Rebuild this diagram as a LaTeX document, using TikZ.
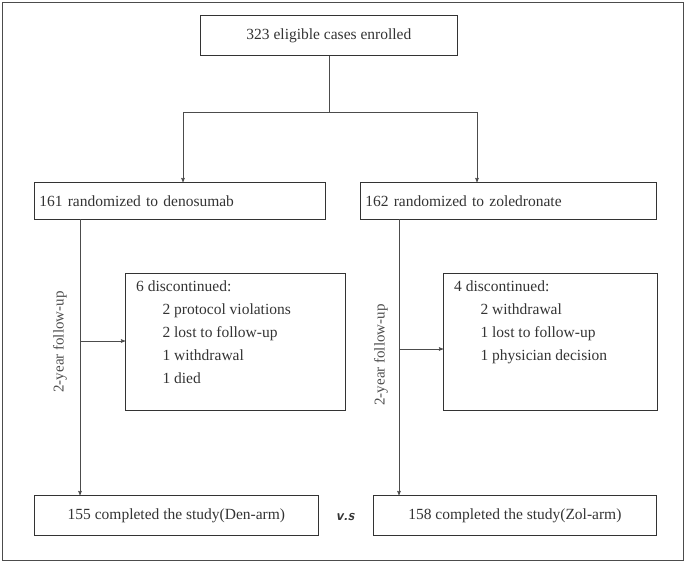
\documentclass[tikz,border=0pt]{standalone}
\usepackage{fontspec}
\setmainfont{Liberation Serif}
\usepackage{tikz}
\usetikzlibrary{positioning, arrows}
\tikzset{
>=stealth', % arrow heads
box/.style={draw=black!80, thick, inner sep=0pt, anchor=north west, text=black!80, font=\fontsize{15.5}{23}\selectfont}, % every framed box
txt/.style={anchor=north west, inner sep=0pt, align=left, text=black!80, font=\fontsize{15.5}{23}\selectfont}, % text in the tall boxes
flow/.style={->, draw=black!70, semithick}, % connectors
follow/.style={rotate=90, text=black!70, font=\fontsize{15}{17}\selectfont}
}
\begin{document}
\begin{tikzpicture}[x=1pt, y=-1pt]
      \draw[black!70] (2,2) rectangle (683,560);
      \useasboundingbox (0,0) rectangle (685,562);

      \node[box, minimum width=257pt, minimum height=40pt] (enrol) at (200,15) {323 eligible cases enrolled};
      \node[box, minimum width=291pt, minimum height=37pt, text width=281pt, align=left, inner xsep=5pt] (den) at (34,182) {161 randomized to denosumab};
      \node[box, minimum width=296pt, minimum height=37pt, text width=286pt, align=left, inner xsep=5pt] (zol) at (360,182) {162 randomized to zoledronate};
      \node[box, minimum width=220pt, minimum height=137pt] (disA) at (125,273) {};
      \node[txt] (disAtext) at (136,281)
        {6 discontinued:\\
         \hspace*{1.7em}2 protocol violations\\
         \hspace*{1.7em}2 lost to follow-up\\
         \hspace*{1.7em}1 withdrawal\\
         \hspace*{1.7em}1 died};
      \node[box, minimum width=214pt, minimum height=137pt] (disB) at (443,273) {};
      \node[txt] (disBtext) at (454,281)
        {4 discontinued:\\
         \hspace*{1.7em}2 withdrawal\\
         \hspace*{1.7em}1 lost to follow-up\\
         \hspace*{1.7em}1 physician decision};
      \node[box, minimum width=284pt, minimum height=40pt] (endA) at (34,495) {155 completed the study(Den-arm)};
      \node[box, minimum width=283pt, minimum height=40pt] (endB) at (373,495) {158 completed the study(Zol-arm)};
      \node[font=\sffamily\bfseries\itshape\fontsize{15}{17}\selectfont, text=black!80] (vs) at (345,517) {v.s};

      \coordinate (split) at (329,112);
      \draw[flow, -] (enrol.south -| split) -- (split);
      \draw[flow] (split) -| (183,182);
      \draw[flow] (split) -| (477,182);

      \draw[flow] (80,219) -- (80,495);
      \draw[flow] (80,341) -- (disA.west |- 80,341);
      \node[follow] (fuA) at (60,342) {2-year follow-up};
      \draw[flow] (399,219) -- (399,495);
      \draw[flow] (399,349) -- (disB.west |- 399,349);
      \node[follow] (fuB) at (381,355) {2-year follow-up};
\end{tikzpicture}
\end{document}
